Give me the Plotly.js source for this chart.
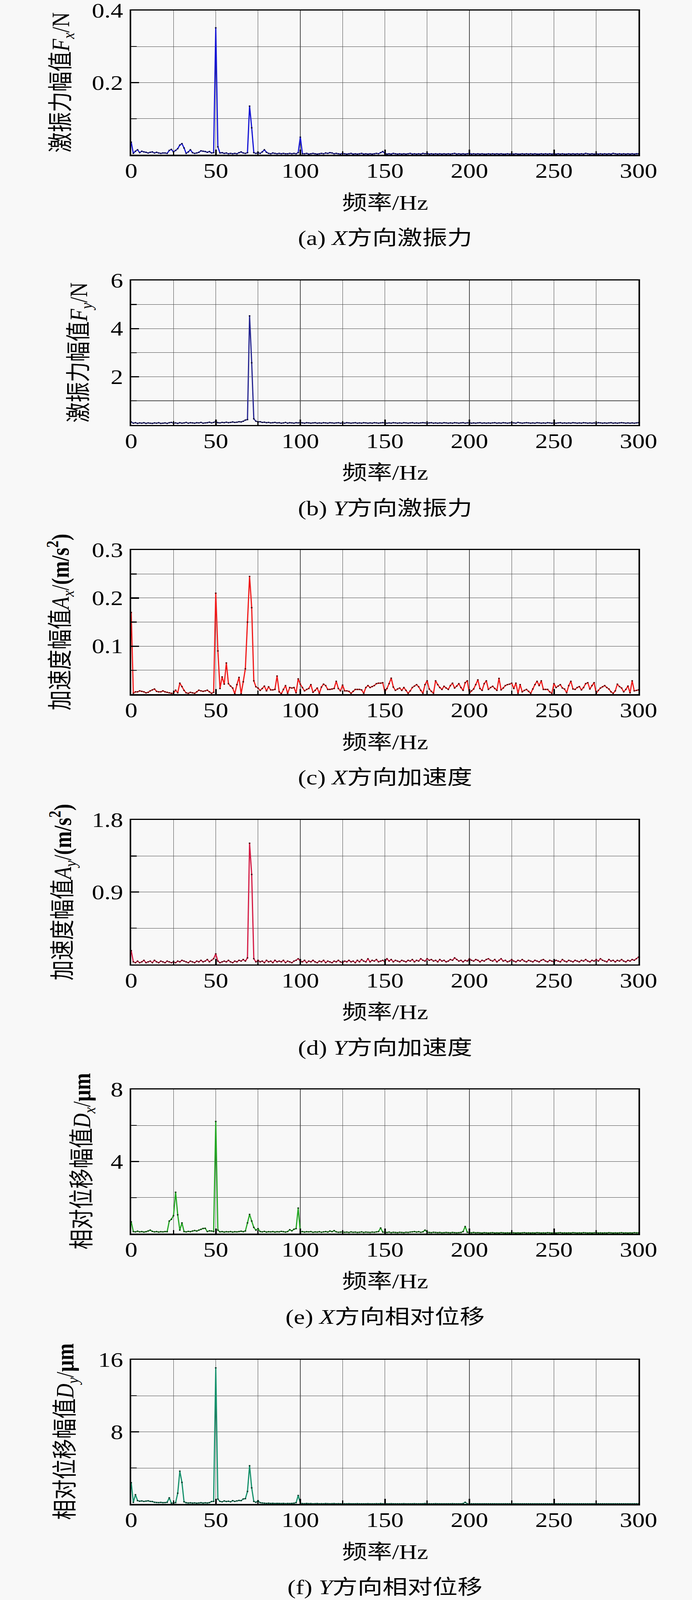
<!DOCTYPE html>
<html>
<head>
<meta charset="utf-8">
<script src="https://cdn.plot.ly/plotly-3.0.1.min.js"></script>
<style>
html,body{margin:0;padding:0;background:#f8f8f8;overflow:hidden;}
#wrap{width:1772px;height:5054px;transform-origin:0 0;}
#chart{width:1772px;height:5054px;}
</style>
</head>
<body>
<div id="wrap"><div id="chart"></div></div>
<script>
// Frequency axis: samples every 1.25 Hz from 0 to 300 Hz
const freqStart = 0;
const freqStep = 1.25;
const xTickVals = [0, 50, 100, 150, 200, 250, 300];
const xMinorVals = [25, 75, 125, 175, 225, 275];

// (a) X-direction excitation force Fx (N)
const forceX = [
0.035,0.004,0.010,0.014,0.006,0.010,0.008,0.007,0.005,0.007,
0.008,0.005,0.007,0.005,0.004,0.005,0.005,0.004,0.012,0.015,
0.008,0.012,0.017,0.027,0.031,0.019,0.004,0.008,0.014,0.006,
0.004,0.005,0.007,0.011,0.010,0.009,0.007,0.009,0.005,0.006,
0.352,0.022,0.005,0.006,0.004,0.005,0.003,0.004,0.003,0.004,
0.003,0.006,0.008,0.005,0.004,0.006,0.135,0.075,0.006,0.004,
0.006,0.004,0.008,0.014,0.007,0.004,0.003,0.005,0.004,0.003,
0.004,0.003,0.004,0.003,0.003,0.004,0.003,0.004,0.003,0.006,
0.049,0.003,0.003,0.004,0.002,0.003,0.004,0.003,0.002,0.003,
0.004,0.003,0.005,0.004,0.006,0.005,0.003,0.004,0.003,0.002,
0.004,0.003,0.002,0.003,0.004,0.002,0.003,0.002,0.003,0.004,
0.002,0.003,0.002,0.003,0.002,0.003,0.004,0.003,0.006,0.009,
0.004,0.002,0.003,0.002,0.004,0.003,0.002,0.003,0.002,0.003,
0.002,0.003,0.004,0.002,0.003,0.002,0.003,0.002,0.004,0.003,
0.004,0.002,0.003,0.002,0.003,0.002,0.003,0.002,0.003,0.002,
0.003,0.002,0.003,0.004,0.002,0.003,0.002,0.003,0.002,0.003,
0.004,0.002,0.003,0.002,0.003,0.002,0.003,0.002,0.002,0.003,
0.002,0.003,0.002,0.003,0.002,0.003,0.002,0.002,0.003,0.002,
0.003,0.002,0.003,0.002,0.002,0.003,0.002,0.003,0.002,0.003,
0.002,0.003,0.002,0.002,0.003,0.002,0.003,0.002,0.003,0.002,
0.003,0.002,0.003,0.002,0.003,0.002,0.002,0.003,0.002,0.003,
0.002,0.003,0.002,0.003,0.002,0.004,0.003,0.002,0.003,0.002,
0.003,0.002,0.003,0.002,0.003,0.002,0.003,0.002,0.004,0.003,
0.002,0.003,0.002,0.003,0.002,0.003,0.002,0.003,0.002,0.003,
0.003];

// (b) Y-direction excitation force Fy (N)
const forceY = [
0.12,0.07,0.09,0.06,0.08,0.07,0.09,0.06,0.08,0.07,
0.06,0.08,0.07,0.09,0.06,0.07,0.08,0.06,0.09,0.10,
0.07,0.08,0.06,0.09,0.07,0.08,0.10,0.07,0.09,0.08,
0.07,0.09,0.08,0.10,0.07,0.08,0.09,0.11,0.08,0.10,
0.14,0.09,0.08,0.10,0.09,0.11,0.09,0.10,0.12,0.10,
0.11,0.13,0.12,0.15,0.20,0.22,4.53,2.58,0.25,0.15,
0.12,0.13,0.10,0.11,0.09,0.10,0.08,0.09,0.10,0.08,
0.09,0.07,0.08,0.10,0.07,0.09,0.08,0.07,0.09,0.08,
0.10,0.08,0.07,0.09,0.08,0.07,0.08,0.09,0.07,0.08,
0.07,0.09,0.08,0.07,0.09,0.08,0.07,0.08,0.09,0.07,
0.08,0.07,0.09,0.08,0.07,0.08,0.09,0.07,0.08,0.07,
0.09,0.08,0.07,0.08,0.07,0.09,0.08,0.07,0.08,0.09,
0.08,0.07,0.08,0.07,0.09,0.08,0.07,0.08,0.07,0.09,
0.08,0.07,0.08,0.09,0.07,0.08,0.07,0.08,0.09,0.08,
0.07,0.08,0.09,0.07,0.08,0.07,0.08,0.07,0.09,0.08,
0.07,0.08,0.07,0.09,0.08,0.07,0.08,0.09,0.07,0.08,
0.09,0.07,0.08,0.07,0.08,0.09,0.07,0.08,0.07,0.08,
0.07,0.08,0.09,0.07,0.08,0.07,0.09,0.08,0.07,0.08,
0.09,0.08,0.07,0.10,0.08,0.07,0.08,0.09,0.08,0.07,
0.08,0.07,0.09,0.08,0.07,0.08,0.07,0.09,0.08,0.07,
0.08,0.07,0.08,0.09,0.07,0.08,0.07,0.08,0.07,0.09,
0.08,0.07,0.08,0.07,0.09,0.08,0.07,0.08,0.07,0.08,
0.07,0.09,0.08,0.07,0.08,0.07,0.08,0.09,0.07,0.08,
0.07,0.08,0.09,0.08,0.07,0.08,0.07,0.08,0.07,0.08,
0.09];

// (c) X-direction acceleration Ax (m/s^2)
const accelX = [
0.17,0.002,0.005,0.005,0.007,0.006,0.005,0.003,0.004,0.007,
0.009,0.011,0.006,0.005,0.005,0.007,0.005,0.004,0.003,0.002,
0.002,0.0085,0.003,0.023,0.016,0.008,0.003,0.002,0.004,0.003,
0.002,0.005,0.0085,0.007,0.006,0.007,0.0085,0.005,0.002,0.004,
0.21,0.09,0.012,0.036,0.021,0.065,0.022,0.017,0.013,0.001,
0.020,0.035,0.001,0.026,0.053,0.15,0.245,0.18,0.028,0.0155,
0.013,0.008,0.012,0.017,0.007,0.0155,0.009,0.009,0.010,0.038,
0.005,0.001,0.010,0.018,0.002,0.014,0.013,0.014,0.003,0.032,
0.021,0.014,0.007,0.010,0.012,0.020,0.004,0.008,0.013,0.002,
0.015,0.021,0.018,0.010,0.010,0.011,0.012,0.027,0.012,0.007,
0.019,0.007,0.007,0.006,0.002,0.006,0.010,0.010,0.010,0.009,
0.002,0.014,0.018,0.014,0.016,0.018,0.022,0.023,0.023,0.024,
0.005,0.012,0.022,0.0335,0.015,0.008,0.011,0.013,0.008,0.014,
0.008,0.002,0.007,0.014,0.017,0.020,0.0155,0.008,0.002,0.020,
0.028,0.011,0.006,0.002,0.028,0.020,0.014,0.010,0.0165,0.013,
0.010,0.018,0.023,0.013,0.017,0.022,0.014,0.008,0.024,0.028,
0.002,0.007,0.011,0.020,0.030,0.012,0.008,0.022,0.028,0.010,
0.014,0.0165,0.012,0.008,0.033,0.009,0.013,0.018,0.020,0.021,
0.023,0.012,0.023,0.002,0.020,0.005,0.008,0.010,0.006,0.002,
0.011,0.020,0.027,0.018,0.028,0.010,0.010,0.010,0.005,0.002,
0.022,0.014,0.017,0.020,0.013,0.011,0.003,0.018,0.027,0.011,
0.010,0.014,0.016,0.009,0.014,0.022,0.024,0.011,0.018,0.024,
0.002,0.008,0.013,0.0155,0.018,0.014,0.011,0.005,0.002,0.007,
0.021,0.016,0.013,0.005,0.010,0.017,0.003,0.028,0.007,0.008,
0.009];

// (d) Y-direction acceleration Ay (m/s^2)
const accelY = [
0.17,0.03,0.02,0.04,0.02,0.03,0.05,0.02,0.03,0.04,
0.02,0.05,0.03,0.02,0.04,0.03,0.02,0.04,0.03,0.02,
0.03,0.02,0.04,0.03,0.05,0.04,0.03,0.02,0.04,0.03,
0.02,0.04,0.03,0.05,0.03,0.04,0.06,0.03,0.05,0.07,
0.13,0.04,0.02,0.03,0.04,0.03,0.05,0.03,0.02,0.04,
0.03,0.05,0.04,0.06,0.04,0.08,1.51,1.12,0.07,0.03,
0.05,0.03,0.04,0.02,0.05,0.03,0.04,0.02,0.05,0.03,
0.04,0.03,0.05,0.02,0.04,0.03,0.02,0.04,0.05,0.07,
0.04,0.03,0.05,0.02,0.04,0.03,0.05,0.03,0.02,0.04,
0.03,0.05,0.02,0.04,0.03,0.02,0.04,0.03,0.05,0.03,
0.02,0.04,0.03,0.05,0.03,0.04,0.02,0.05,0.03,0.06,
0.04,0.03,0.07,0.03,0.05,0.04,0.06,0.03,0.04,0.05,
0.03,0.07,0.04,0.06,0.03,0.05,0.04,0.03,0.05,0.04,
0.03,0.05,0.04,0.06,0.03,0.05,0.04,0.07,0.05,0.04,
0.07,0.05,0.06,0.04,0.05,0.03,0.06,0.04,0.05,0.03,
0.04,0.06,0.05,0.08,0.06,0.04,0.05,0.03,0.05,0.04,
0.07,0.05,0.04,0.06,0.05,0.03,0.05,0.04,0.06,0.07,
0.05,0.04,0.06,0.03,0.05,0.07,0.04,0.05,0.03,0.04,
0.06,0.04,0.03,0.05,0.04,0.06,0.04,0.03,0.05,0.04,
0.03,0.05,0.04,0.03,0.05,0.06,0.04,0.03,0.05,0.04,
0.03,0.05,0.04,0.03,0.06,0.04,0.03,0.05,0.04,0.03,
0.05,0.04,0.03,0.05,0.04,0.06,0.04,0.03,0.05,0.04,
0.06,0.04,0.07,0.05,0.04,0.03,0.06,0.04,0.05,0.03,
0.05,0.04,0.06,0.04,0.03,0.05,0.04,0.06,0.05,0.07,
0.09];

// (e) X-direction relative displacement Dx (um)
const dispX = [
0.66,0.12,0.10,0.14,0.10,0.12,0.09,0.11,0.15,0.20,
0.13,0.10,0.12,0.09,0.11,0.10,0.12,0.11,0.70,0.80,
1.00,2.30,1.05,0.20,0.60,0.12,0.10,0.13,0.11,0.15,
0.18,0.15,0.20,0.24,0.29,0.30,0.12,0.16,0.15,0.12,
6.22,0.20,0.10,0.12,0.09,0.11,0.10,0.12,0.09,0.11,
0.10,0.12,0.14,0.11,0.15,0.60,1.07,0.70,0.35,0.20,
0.28,0.12,0.10,0.13,0.09,0.11,0.10,0.12,0.09,0.11,
0.10,0.13,0.11,0.09,0.12,0.22,0.16,0.25,0.28,1.42,
0.10,0.12,0.09,0.11,0.10,0.12,0.08,0.10,0.09,0.11,
0.08,0.10,0.12,0.09,0.15,0.11,0.17,0.10,0.08,0.09,
0.10,0.08,0.09,0.07,0.10,0.08,0.09,0.07,0.08,0.10,
0.07,0.09,0.08,0.07,0.09,0.08,0.10,0.12,0.32,0.09,
0.08,0.07,0.09,0.06,0.08,0.07,0.06,0.08,0.07,0.06,
0.08,0.07,0.09,0.10,0.12,0.09,0.11,0.08,0.10,0.20,
0.09,0.07,0.06,0.08,0.07,0.06,0.07,0.05,0.06,0.07,
0.06,0.05,0.07,0.06,0.05,0.06,0.07,0.12,0.40,0.08,
0.06,0.05,0.07,0.05,0.06,0.05,0.04,0.06,0.05,0.04,
0.05,0.06,0.04,0.05,0.04,0.06,0.05,0.04,0.05,0.04,
0.06,0.05,0.04,0.05,0.04,0.05,0.06,0.04,0.05,0.04,
0.05,0.04,0.06,0.05,0.04,0.05,0.04,0.06,0.05,0.04,
0.05,0.04,0.05,0.06,0.04,0.05,0.04,0.05,0.04,0.06,
0.05,0.04,0.05,0.04,0.06,0.05,0.04,0.05,0.04,0.05,
0.06,0.04,0.05,0.04,0.05,0.04,0.06,0.05,0.04,0.05,
0.04,0.05,0.06,0.04,0.05,0.04,0.05,0.04,0.06,0.05,
0.05];

// (f) Y-direction relative displacement Dy (um)
const dispY = [
2.37,0.19,1.04,0.38,0.32,0.35,0.30,0.33,0.36,0.30,
0.28,0.20,0.18,0.16,0.19,0.15,0.17,0.20,0.70,0.10,
0.12,0.15,1.20,3.65,2.40,0.25,0.15,0.12,0.14,0.11,
0.13,0.10,0.12,0.15,0.11,0.14,0.12,0.16,0.28,0.30,
15.1,0.55,0.30,0.25,0.35,0.28,0.32,0.25,0.38,0.30,
0.35,0.40,0.38,0.57,0.60,1.40,4.25,1.80,0.30,0.20,
0.38,0.15,0.12,0.10,0.08,0.10,0.07,0.09,0.06,0.08,
0.07,0.06,0.08,0.05,0.07,0.06,0.08,0.10,0.15,0.95,
0.10,0.06,0.05,0.07,0.05,0.06,0.04,0.05,0.06,0.04,
0.05,0.04,0.06,0.05,0.04,0.05,0.06,0.04,0.05,0.04,
0.05,0.04,0.03,0.05,0.04,0.03,0.04,0.05,0.03,0.04,
0.03,0.04,0.05,0.03,0.04,0.03,0.05,0.04,0.06,0.04,
0.03,0.04,0.03,0.05,0.04,0.03,0.04,0.03,0.04,0.05,
0.03,0.04,0.03,0.04,0.05,0.03,0.04,0.03,0.04,0.06,
0.04,0.03,0.04,0.03,0.05,0.04,0.03,0.04,0.03,0.04,
0.03,0.04,0.05,0.03,0.04,0.03,0.04,0.06,0.20,0.04,
0.03,0.04,0.03,0.04,0.03,0.04,0.03,0.04,0.03,0.04,
0.03,0.04,0.03,0.04,0.03,0.03,0.04,0.03,0.04,0.03,
0.04,0.03,0.04,0.03,0.03,0.04,0.03,0.04,0.03,0.03,
0.04,0.03,0.03,0.04,0.03,0.04,0.03,0.03,0.04,0.03,
0.03,0.04,0.03,0.03,0.04,0.03,0.04,0.03,0.03,0.04,
0.03,0.04,0.03,0.03,0.04,0.03,0.03,0.04,0.03,0.04,
0.03,0.03,0.04,0.03,0.04,0.03,0.03,0.04,0.03,0.03,
0.04,0.03,0.03,0.04,0.03,0.04,0.03,0.03,0.04,0.03,
0.03];

// Y-axis ranges and tick labels
const yMax = [0.4, 6, 0.3, 1.8, 8, 16];
const yTickVals = [[0.2,0.4],[2,4,6],[0.1,0.2,0.3],[0.9,1.8],[4,8],[8,16]];
const yTickText = [["0.2","0.4"],["2","4","6"],["0.1","0.2","0.3"],["0.9","1.8"],["4","8"],["8","16"]];
const yMinorVals = [[0.1,0.3],[1,3,5],[0.05,0.15,0.25],[0.45,1.35],[2,6],[4,12]];

// Text
const yTitles = [
 "激振力幅值<i>F</i><sub><i>x</i></sub>/N",
 "激振力幅值<i>F</i><sub><i>y</i></sub>/N",
 "加速度幅值<i>A</i><sub><i>x</i></sub>/<b>(m/s<sup>2</sup>)</b>",
 "加速度幅值<i>A</i><sub><i>y</i></sub>/<b>(m/s<sup>2</sup>)</b>",
 "相对位移幅值<i>D</i><sub><i>x</i></sub>/<b>μm</b>",
 "相对位移幅值<i>D</i><sub><i>y</i></sub>/<b>μm</b>"
];
const xTitle = "频率/Hz";
const captions = [
 "(a) <i>X</i>方向激振力",
 "(b) <i>Y</i>方向激振力",
 "(c) <i>X</i>方向加速度",
 "(d) <i>Y</i>方向加速度",
 "(e) <i>X</i>方向相对位移",
 "(f) <i>Y</i>方向相对位移"
];

const series = [forceX, forceY, accelX, accelY, dispX, dispY];
const lineColors = ["#1212d4", "#242490", "#f01818", "#d41842", "#22a622", "#13906a"];
const markerColors = ["#0a0a40", "#10103a", "#5a0000", "#500010", "#0a3a0a", "#063a28"];

// Layout geometry (reference pixels, 1772 x 5054)
const W = 1772, H = 5054;
// The browser viewport may be shorter than the figure; scale the whole figure to fit it.
const viewH = window.innerHeight || H;
const fitScale = Math.min(1, viewH / H);
document.getElementById("wrap").style.transform = "scale(1," + fitScale + ")";

const plotLeft = 336, plotRight = 1635, plotH = 456;
const plotTops = [33, 886, 1737, 2590, 3441, 4295];
const yTitleX = [160, 206, 154, 160, 214, 171];
const FONT = "'Liberation Serif', 'Noto Sans CJK SC', serif";
const fy = v => 1 - v / H;

const traces = [];
const layout = {
  width: W, height: H,
  margin: {l:0, r:0, t:0, b:0},
  paper_bgcolor: "#f8f8f8",
  plot_bgcolor: "#f8f8f8",
  showlegend: false,
  font: {family: FONT, color: "#000", size: 64},
  annotations: []
};

for (let k = 0; k < 6; k++) {
  const n = k === 0 ? "" : String(k + 1);
  const top = plotTops[k], bot = top + plotH;
  traces.push({
    type: "scatter", mode: "lines+markers",
    x0: freqStart, dx: freqStep, y: series[k],
    xaxis: "x" + n, yaxis: "y" + n,
    line: {color: lineColors[k], width: 3},
    marker: {color: markerColors[k], size: 4, symbol: "square"},
    hoverinfo: "skip"
  });
  layout["xaxis" + n] = {
    domain: [plotLeft / W, plotRight / W],
    anchor: "y" + n,
    range: [0, 300],
    tickmode: "array", tickvals: xTickVals,
    ticks: "inside", ticklen: 17, tickwidth: 4, tickcolor: "#000",
    minor: {tickmode: "array", tickvals: xMinorVals, ticks: "inside", ticklen: 12, tickwidth: 3, tickcolor: "#000",
            showgrid: true, gridcolor: "#4a4a4a", gridwidth: 1.3},
    showgrid: true, gridcolor: "#4a4a4a", gridwidth: 1.3,
    showline: true, linecolor: "#000", linewidth: 4, mirror: true,
    zeroline: false,
    tickfont: {family: FONT, size: 64, color: "#000"},
    ticklabelstandoff: -8,
    ticklabeloverflow: "allow",
    fixedrange: true
  };
  layout["yaxis" + n] = {
    domain: [fy(bot), fy(top)],
    anchor: "x" + n,
    range: [0, yMax[k]],
    tickmode: "array", tickvals: yTickVals[k], ticktext: yTickText[k],
    ticks: "inside", ticklen: 20, tickwidth: 4, tickcolor: "#000",
    minor: {tickmode: "array", tickvals: yMinorVals[k], ticks: "inside", ticklen: 14, tickwidth: 3, tickcolor: "#000",
            showgrid: true, gridcolor: "#4a4a4a", gridwidth: 1.3},
    showgrid: true, gridcolor: "#4a4a4a", gridwidth: 1.3,
    showline: true, linecolor: "#000", linewidth: 4, mirror: true,
    zeroline: false,
    tickfont: {family: FONT, size: 64, color: "#000"},
    ticklabelstandoff: 4,
    ticklabeloverflow: "allow",
    fixedrange: true
  };
  layout.annotations.push({
    xref: "paper", yref: "paper",
    x: yTitleX[k] / W, y: fy(top + plotH / 2),
    xanchor: "center", yanchor: "middle",
    text: yTitles[k], textangle: -90, showarrow: false,
    font: {family: FONT, size: 64, color: "#000"}
  });
  layout.annotations.push({
    xref: "paper", yref: "paper",
    x: (plotLeft + plotRight) / 2 / W, y: fy(bot + 151),
    xanchor: "center", yanchor: "middle",
    text: xTitle, showarrow: false,
    font: {family: FONT, size: 64, color: "#000"}
  });
  layout.annotations.push({
    xref: "paper", yref: "paper",
    x: (plotLeft + plotRight) / 2 / W, y: fy(bot + 263),
    xanchor: "center", yanchor: "middle",
    text: captions[k], showarrow: false,
    font: {family: FONT, size: 64, color: "#000"}
  });
}

Plotly.newPlot("chart", traces, layout, {staticPlot: true, displayModeBar: false});
</script>
</body>
</html>
